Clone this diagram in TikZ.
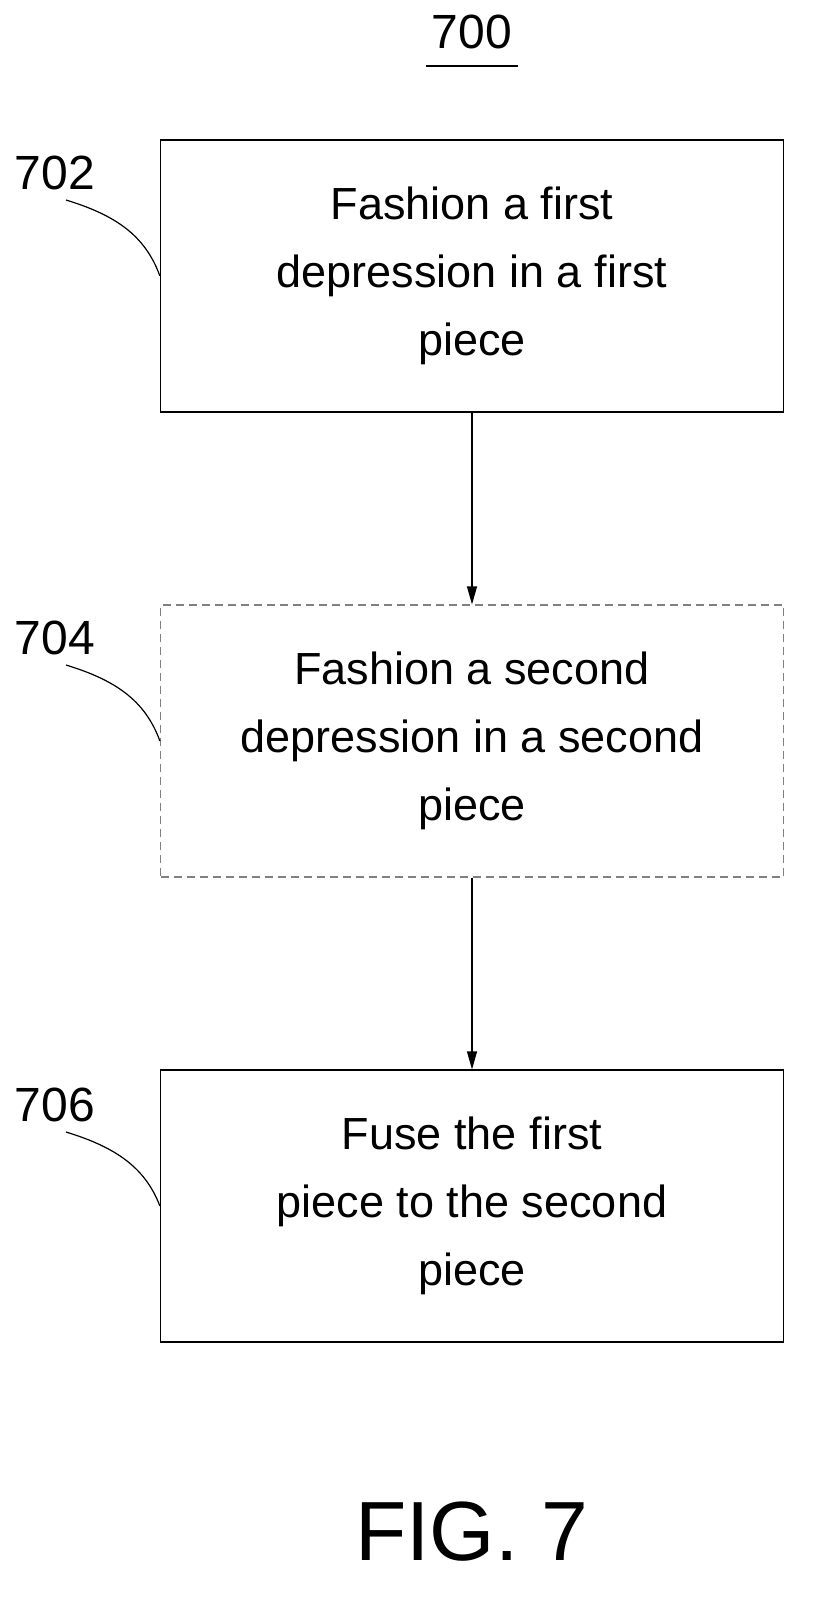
\documentclass[tikz,border=0pt]{standalone}
\usepackage{fontspec}
\setmainfont{Liberation Sans}
\usetikzlibrary{positioning, arrows.meta}

\tikzset{
  flowstep/.style={draw, line width=1.2pt, minimum width=623pt, minimum height=272pt,
    align=center, font=\fontsize{45}{68}\selectfont, inner sep=0pt},
  optstep/.style={flowstep, draw=gray, dash pattern=on 8pt off 5pt},
  flow/.style={-{Triangle[length=18pt,width=10pt]}, line width=1.2pt},
  reflabel/.style={font=\fontsize{48}{52}\selectfont},
  leader/.style={line width=1.2pt}
}

\begin{document}
\begin{tikzpicture}[x=1pt,y=-1pt]
  \useasboundingbox (0,0) rectangle (823,1603);

  % title
  \node[reflabel] (title) at (472,32) {700};
  \draw[line width=2pt] (426,66) -- (518,66);

  % steps
  \node[flowstep] (s702) at (472,276) {Fashion a first\\depression in a first\\piece};
  \node[optstep] (s704) at (472,741) {Fashion a second\\depression in a second\\piece};
  \node[flowstep] (s706) at (472,1206) {Fuse the first\\piece to the second\\piece};

  \draw[flow] (s702) -- (s704);
  \draw[flow] (s704) -- (s706);

  % reference numerals
  \node[reflabel] (n702) at (55,173) {702};
  \node[reflabel] (n704) at (55,638) {704};
  \node[reflabel] (n706) at (55,1105) {706};
  \coordinate (c702) at (66,200);
  \coordinate (c704) at (66,665);
  \coordinate (c706) at (66,1132);
  \draw[leader] (c702) .. controls (115,215) and (145,235) .. (s702.west);
  \draw[leader] (c704) .. controls (115,680) and (145,700) .. (s704.west);
  \draw[leader] (c706) .. controls (115,1147) and (145,1167) .. (s706.west);

  % figure label
  \node[font=\fontsize{84}{90}\selectfont] (fig) at (472,1532) {FIG. 7};
\end{tikzpicture}
\end{document}
